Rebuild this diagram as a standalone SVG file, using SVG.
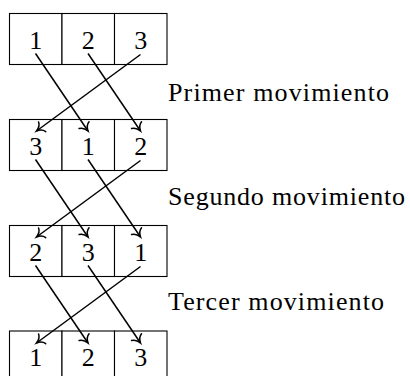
<svg xmlns="http://www.w3.org/2000/svg" width="410" height="376" viewBox="0 0 410 376">
<defs>
<style>
.cell{fill:#fff;stroke:#000;stroke-width:1.1}
text{font-family:'Liberation Serif','DejaVu Serif',serif;font-size:26px;fill:#000}
.num{text-anchor:middle}
.arr{stroke:#000;stroke-width:1.5;fill:none;marker-end:url(#to)}
</style>
<marker id="to" markerUnits="userSpaceOnUse" markerWidth="16" markerHeight="16" refX="0" refY="0" viewBox="-9 -8 11 16" orient="auto" overflow="visible">
<path d="M -7 -6 C -6 -2.5, -2.5 -0.7, 0 0 C -2.5 0.7, -6 2.5, -7 6" fill="none" stroke="#000" stroke-width="1.5" stroke-linecap="round"/>
</marker>
</defs>
<g id="row1">
<rect class="cell" x="9.5" y="13.5" width="52.5" height="51"/>
<rect class="cell" x="62" y="13.5" width="52.5" height="51"/>
<rect class="cell" x="114.5" y="13.5" width="52.5" height="51"/>
<text class="num" x="35.75" y="48.5" font-family="Liberation Serif, serif">1</text>
<text class="num" x="88.25" y="48.5" font-family="Liberation Serif, serif">2</text>
<text class="num" x="140.75" y="48.5" font-family="Liberation Serif, serif">3</text>
</g>
<g id="row2">
<rect class="cell" x="9.5" y="119.5" width="52.5" height="51"/>
<rect class="cell" x="62" y="119.5" width="52.5" height="51"/>
<rect class="cell" x="114.5" y="119.5" width="52.5" height="51"/>
<text class="num" x="35.75" y="154.5">3</text>
<text class="num" x="88.25" y="154.5">1</text>
<text class="num" x="140.75" y="154.5">2</text>
</g>
<g id="row3">
<rect class="cell" x="9.5" y="225.5" width="52.5" height="51"/>
<rect class="cell" x="62" y="225.5" width="52.5" height="51"/>
<rect class="cell" x="114.5" y="225.5" width="52.5" height="51"/>
<text class="num" x="35.75" y="260.5">2</text>
<text class="num" x="88.25" y="260.5">3</text>
<text class="num" x="140.75" y="260.5">1</text>
</g>
<g id="row4">
<rect class="cell" x="9.5" y="331" width="52.5" height="51"/>
<rect class="cell" x="62" y="331" width="52.5" height="51"/>
<rect class="cell" x="114.5" y="331" width="52.5" height="51"/>
<text class="num" x="35.75" y="366">1</text>
<text class="num" x="88.25" y="366">2</text>
<text class="num" x="140.75" y="366">3</text>
</g>
<g id="labels">
<text x="168" y="101" textLength="221" lengthAdjust="spacing">Primer movimiento</text>
<text x="168" y="205" textLength="237" lengthAdjust="spacing">Segundo movimiento</text>
<text x="168" y="310" textLength="216" lengthAdjust="spacing">Tercer movimiento</text>
</g>
<g id="connectors">
<line class="arr" x1="35.5" y1="53.5" x2="88" y2="131"/>
<line class="arr" x1="88" y1="53.5" x2="140.5" y2="131"/>
<line class="arr" x1="140.5" y1="54.5" x2="36.5" y2="131"/>
<line class="arr" x1="35.5" y1="159.5" x2="88" y2="237"/>
<line class="arr" x1="88" y1="159.5" x2="140.5" y2="237"/>
<line class="arr" x1="140.5" y1="160.5" x2="36.5" y2="237"/>
<line class="arr" x1="35.5" y1="265.5" x2="88" y2="343"/>
<line class="arr" x1="88" y1="265.5" x2="140.5" y2="343"/>
<line class="arr" x1="140.5" y1="266.5" x2="36.5" y2="343"/>
</g>
</svg>
